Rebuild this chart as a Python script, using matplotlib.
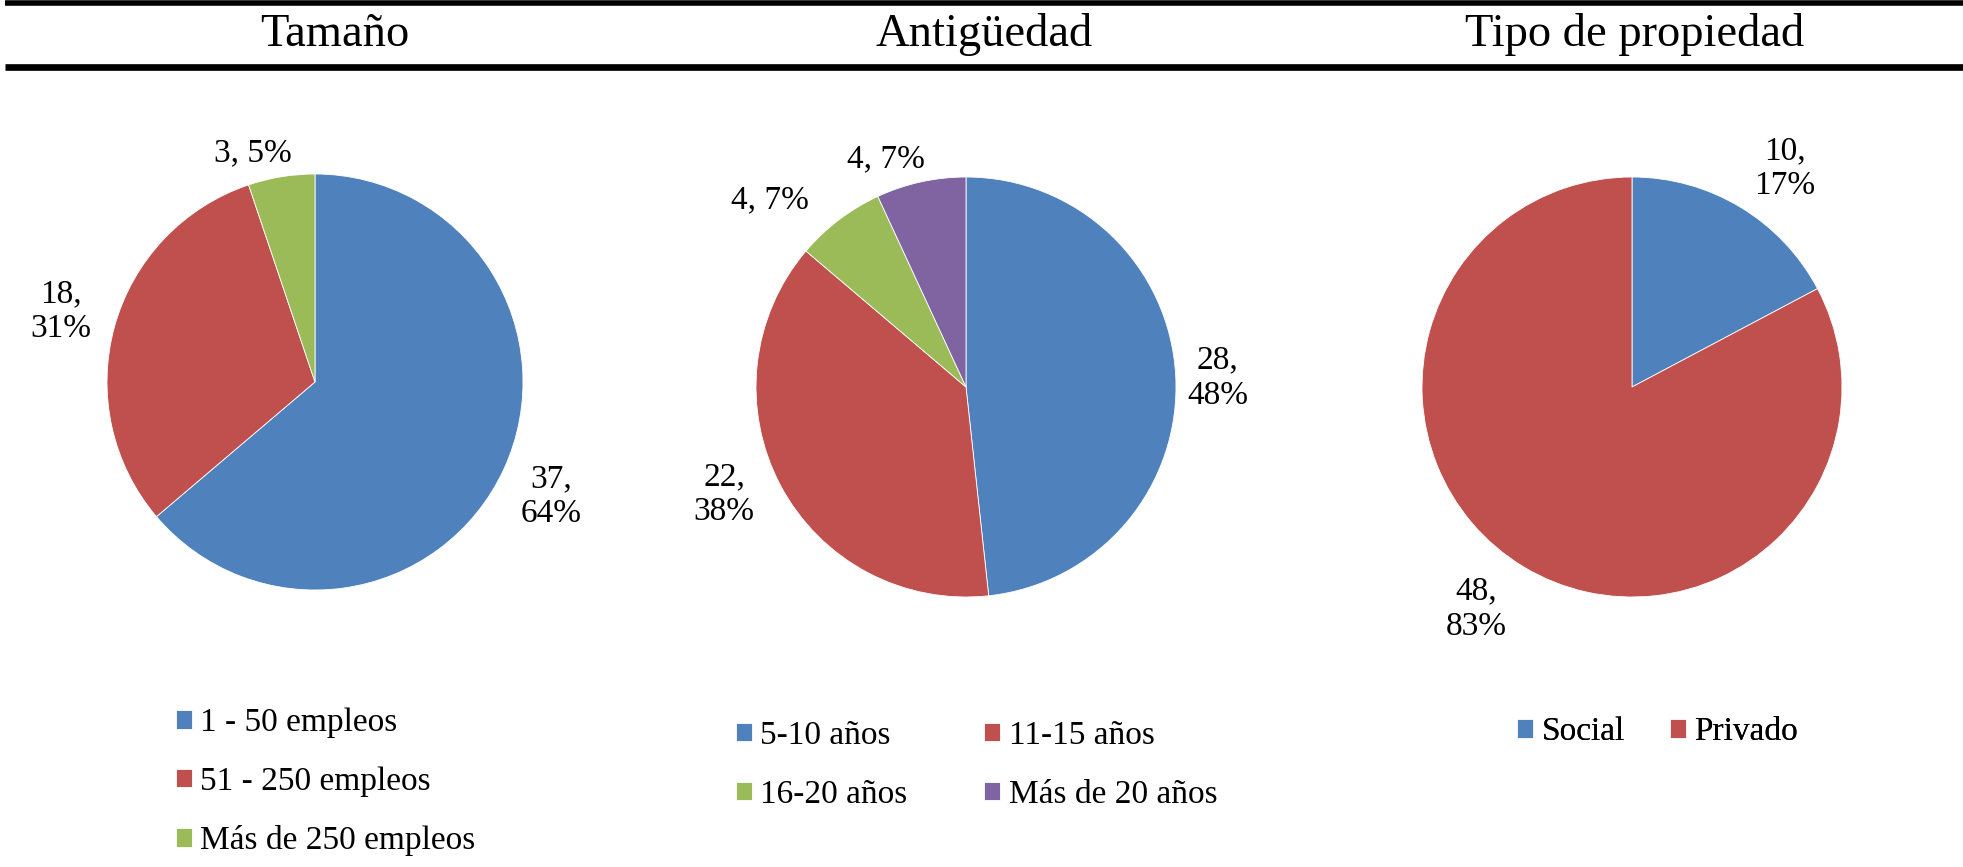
import numpy as np
import matplotlib.pyplot as plt

plt.rcParams['font.family'] = ['Liberation Serif', 'DejaVu Serif']

# datos
titles = ['Tamaño', 'Antigüedad', 'Tipo de propiedad']

size_labels = ['1 - 50 empleos', '51 - 250 empleos', 'Más de 250 empleos']
size_counts = [37, 18, 3]
size_pcts = [64, 31, 5]

age_labels = ['5-10 años', '11-15 años', '16-20 años', 'Más de 20 años']
age_counts = [28, 22, 4, 4]
age_pcts = [48, 38, 7, 7]

own_labels = ['Social', 'Privado']
own_counts = [10, 48]
own_pcts = [17, 83]

colors = ['#4F81BD', '#C0504D', '#9BBB59', '#8064A2']

W, H = 1963, 867
fig = plt.figure(figsize=(W / 100, H / 100), dpi=100)
ax = fig.add_axes([0, 0, 1, 1])


def Y(y):
    # pixel row (from top) -> data y
    return H - y


# layout (pixels): pie centre, radius, title x, label distance / angle tweaks, legend placement
pies = [
    dict(counts=size_counts, pcts=size_pcts, labels=size_labels, title=titles[0],
         c=(315, 382), r=208, tx=335,
         ldist=[1.26, 1.27, 1.14], lrot=[-1, 0, 6], oneline=[False, False, True],
         leg=dict(x=176, y=782, ncol=1, colsp=1.0, order=[0, 1, 2])),
    dict(counts=age_counts, pcts=age_pcts, labels=age_labels, title=titles[1],
         c=(966, 387), r=210, tx=984,
         ldist=[1.2, 1.26, 1.29, 1.15], lrot=[-1, -4, 9, 7], oneline=[False, False, True, True],
         leg=dict(x=736, y=765, ncol=2, colsp=2.3, order=[0, 2, 1, 3])),
    dict(counts=own_counts, pcts=own_pcts, labels=own_labels, title=titles[2],
         c=(1632, 387), r=210, tx=1635,
         ldist=[1.27, 1.29], lrot=[-4, -4], oneline=[False, False],
         leg=dict(x=1517, y=732, ncol=2, colsp=1.35, order=[0, 1])),
]

for p in pies:
    cx, cy = p['c']
    wedges, _ = ax.pie(p['counts'], colors=colors[:len(p['counts'])], startangle=90,
                       counterclock=False, center=(cx, Y(cy)), radius=p['r'],
                       wedgeprops=dict(linewidth=0.6, edgecolor='white'))
    for w, n, pc, d, rot, one in zip(wedges, p['counts'], p['pcts'], p['ldist'], p['lrot'], p['oneline']):
        mid = np.deg2rad((w.theta1 + w.theta2) / 2 + rot)
        lx = cx + p['r'] * d * np.cos(mid)
        ly = Y(cy) + p['r'] * d * np.sin(mid)
        txt = f'{n}, {pc}%' if one else f'{n},\n{pc}%'
        ax.text(lx, ly, txt, ha='center', va='center', fontsize=24, linespacing=1.2)
    ax.text(p['tx'], Y(35), p['title'], ha='center', va='center', fontsize=33.5)
    lg = p['leg']
    # legend reads row by row, like the original
    hs = [wedges[i] for i in lg['order']]
    ls = [p['labels'][i] for i in lg['order']]
    leg = ax.legend(hs, ls, loc='center left', bbox_to_anchor=(lg['x'], Y(lg['y'])),
                    bbox_transform=ax.transData, ncol=lg['ncol'], frameon=False, fontsize=24,
                    handlelength=0.48, handleheight=0.48, handletextpad=0.25,
                    labelspacing=0.85, columnspacing=lg['colsp'], borderpad=0, borderaxespad=0)
    ax.add_artist(leg)

# header rules
ax.plot([5, W], [Y(2.5), Y(2.5)], color='black', lw=4, solid_capstyle='butt')
ax.plot([5, W], [Y(67), Y(67)], color='black', lw=4.8, solid_capstyle='butt')

ax.set_xlim(0, W)
ax.set_ylim(0, H)
ax.set_aspect('auto')
ax.axis('off')

fig.savefig('out.png', dpi=100)
